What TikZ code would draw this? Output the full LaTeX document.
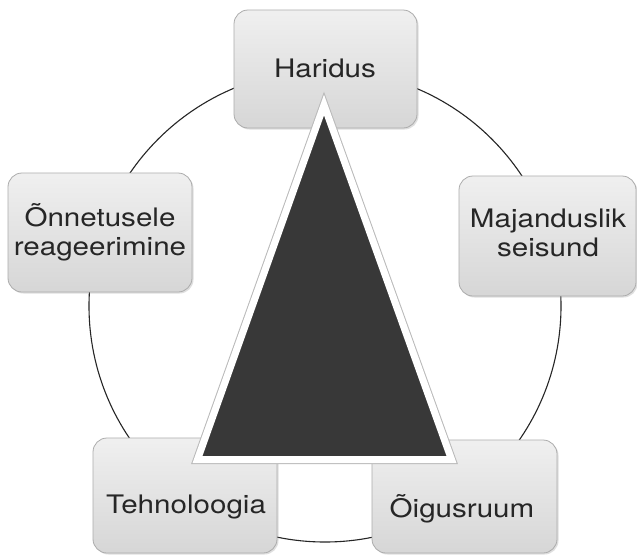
\documentclass[tikz,border=0pt]{standalone}
\usepackage{fontspec}
\setmainfont{TeX Gyre Heros}[FakeStretch=1.16]
\usetikzlibrary{shadows}
\begin{document}
\begin{tikzpicture}[x=1pt,y=-1pt,
  box/.style={draw=gray!65, line width=0.8pt, rounded corners=14pt,
    top color=gray!12, bottom color=gray!32, inner sep=0pt,
    drop shadow={opacity=0.25, shadow xshift=1.5pt, shadow yshift=-1.5pt}},
  lbl/.style={font=\fontsize{25.5}{29}\selectfont, text=black!85, align=center, inner sep=0pt},
  ring/.style={draw=black!85, line width=1.1pt}]
\useasboundingbox (0,0) rectangle (637,555);
\fill[white] (0,0) rectangle (637,555);
% circle
\node[circle, minimum size=472pt, inner sep=0pt] (ring) at (325,306) {};
\draw[ring] (ring.center) circle (236pt);
% boxes
\node[box, minimum width=183pt, minimum height=118pt] (har) at (325.5,69) {};
\node[box, minimum width=184pt, minimum height=119pt] (onn) at (100,232.5) {};
\node[box, minimum width=177pt, minimum height=120pt] (maj) at (547.5,236) {};
\node[box, minimum width=184pt, minimum height=115pt] (teh) at (185,495.5) {};
\node[box, minimum width=185pt, minimum height=113pt] (oig) at (464.5,496.5) {};
% labels
\node[lbl] (hart) at (325,68) {Haridus};
\node[lbl] (onnt) at (100,232) {Õnnetusele\\reageerimine};
\node[lbl] (majt) at (548,233) {Majanduslik\\seisund};
\node[lbl] (teht) at (186,507) {Tehnoloogia};
\node[lbl] (oigt) at (462,509) {Õigusruum};
% triangle
\coordinate (ta) at (324,105);
\coordinate (tl) at (197.5,459.5);
\coordinate (tr) at (451.5,459.5);
\draw[draw=gray!55, line width=9pt, line join=miter] (ta) -- (tl) -- (tr) -- cycle;
\draw[draw=white, line width=7pt, line join=miter, fill=black!78] (ta) -- (tl) -- (tr) -- cycle;
\end{tikzpicture}
\end{document}
